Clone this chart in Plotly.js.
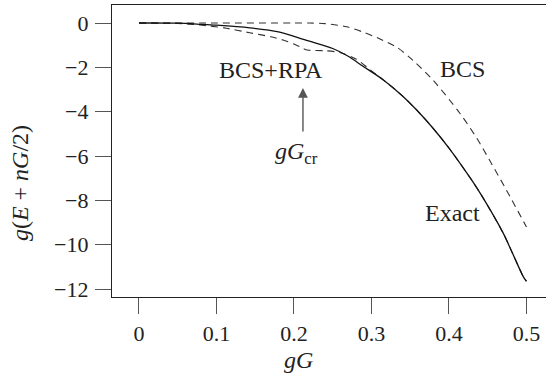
<!DOCTYPE html>
<html>
<head>
<meta charset="utf-8">
<script src="https://cdn.plot.ly/plotly-3.0.1.min.js"></script>
<style>html,body{margin:0;padding:0;background:#fff;}#chart{width:546px;height:377px;}</style>
</head>
<body>
<div id="chart"></div>
<script>
// Exact solution
const exactX = [0, 0.05, 0.08, 0.10, 0.143, 0.18, 0.20, 0.22, 0.25, 0.27, 0.289, 0.315, 0.34, 0.359, 0.38, 0.40, 0.429, 0.444, 0.47, 0.496, 0.50];
const exactY = [0, -0.01, -0.06, -0.10, -0.22, -0.40, -0.60, -0.82, -1.15, -1.50, -1.95, -2.56, -3.29, -3.95, -4.77, -5.64, -7.07, -7.89, -9.48, -11.45, -11.65];
// BCS
const bcsX = [0, 0.10, 0.20, 0.22, 0.24, 0.268, 0.29, 0.311, 0.333, 0.354, 0.38, 0.414, 0.436, 0.455, 0.474, 0.50];
const bcsY = [0, 0, 0, 0, -0.03, -0.17, -0.42, -0.72, -1.10, -1.70, -2.60, -4.07, -5.20, -6.35, -7.53, -9.20];
// BCS+RPA
const rpaX = [0, 0.05, 0.079, 0.11, 0.143, 0.17, 0.186, 0.20, 0.208, 0.217, 0.24, 0.259, 0.28, 0.295, 0.315, 0.34, 0.359, 0.38, 0.40, 0.429, 0.444, 0.47, 0.496, 0.50];
const rpaY = [0, -0.02, -0.09, -0.22, -0.44, -0.62, -0.77, -0.95, -1.08, -1.22, -1.25, -1.33, -1.62, -2.02, -2.56, -3.29, -3.95, -4.77, -5.64, -7.07, -7.89, -9.48, -11.45, -11.65];
// Axis ticks
const xTicks = [0, 0.1, 0.2, 0.3, 0.4, 0.5];
const xTickText = ["0", "0.1", "0.2", "0.3", "0.4", "0.5"];
const yTicks = [0, -2, -4, -6, -8, -10, -12];
const yTickText = ["0", "\u22122", "\u22124", "\u22126", "\u22128", "\u221210", "\u221212"];
// Labels
const curveLabels = ["BCS+RPA", "BCS", "Exact"];
const labelX = [0.170, 0.418, 0.405];
const labelY = [-2.12, -2.07, -8.57];
const critX = 0.2116;
const critText = "<i>gG</i><sub>cr</sub>";

const font = "Liberation Serif";
const traces = [
  {x: rpaX, y: rpaY, mode: "lines", line: {color: "#333", width: 1.1, dash: "7px,5px", shape: "spline", smoothing: 0.6}, hoverinfo: "skip"},
  {x: bcsX, y: bcsY, mode: "lines", line: {color: "#333", width: 1.1, dash: "7px,5px", shape: "spline", smoothing: 0.8}, hoverinfo: "skip"},
  {x: exactX, y: exactY, mode: "lines", line: {color: "#111", width: 1.3, shape: "spline", smoothing: 0.8}, hoverinfo: "skip"}
];

const annotations = curveLabels.map((t, i) => ({
  x: labelX[i], y: labelY[i], xref: "x", yref: "y", text: t, showarrow: false,
  font: {family: font, size: 24, color: "#222"}
}));
annotations.push({
  x: critX, y: -2.93, ax: critX, ay: -4.96, axref: "x", ayref: "y", xref: "x", yref: "y",
  text: "", showarrow: true, arrowhead: 2, arrowsize: 1.4, arrowwidth: 1.4, arrowcolor: "#555"
});
annotations.push({
  x: 0.203, y: -5.85, xref: "x", yref: "y", text: critText, showarrow: false,
  font: {family: font, size: 24, color: "#222"}
});
annotations.push({
  x: -0.212, y: 0.39, xref: "paper", yref: "paper", xanchor: "center", yanchor: "middle",
  text: "<i>g</i>(<i>E</i> + <i>nG</i>/2)",
  textangle: -90, showarrow: false, font: {family: font, size: 24, color: "#222"}
});
annotations.push({
  x: 0.4286, y: -0.2158, xref: "paper", yref: "paper", xanchor: "center", yanchor: "middle",
  text: "<i>gG</i>",
  showarrow: false, font: {family: font, size: 24, color: "#222"}
});

const layout = {
  width: 546, height: 377,
  margin: {l: 112, r: 0, t: 5, b: 80},
  paper_bgcolor: "#fff", plot_bgcolor: "#fff",
  showlegend: false,
  font: {family: font, size: 22, color: "#222"},
  xaxis: {
    range: [-0.0348, 0.5252], tickvals: xTicks, ticktext: xTickText,
    ticks: "outside", ticklen: 16, tickcolor: "#555", tickwidth: 1,
    showline: true, linecolor: "#222", linewidth: 1.2, mirror: true,
    showgrid: false, zeroline: false, ticklabelstandoff: 0,
    tickfont: {family: font, size: 22, color: "#222"}
  },
  yaxis: {
    range: [-12.36, 0.812], tickvals: yTicks, ticktext: yTickText,
    ticks: "outside", ticklen: 16, tickcolor: "#555", tickwidth: 1,
    showline: true, linecolor: "#222", linewidth: 1.2,
    showgrid: false, zeroline: false, ticklabelstandoff: 2,
    tickfont: {family: font, size: 22, color: "#222"}
  },
  annotations: annotations
};
Plotly.newPlot("chart", traces, layout, {staticPlot: true, displayModeBar: false});
</script>
</body>
</html>
